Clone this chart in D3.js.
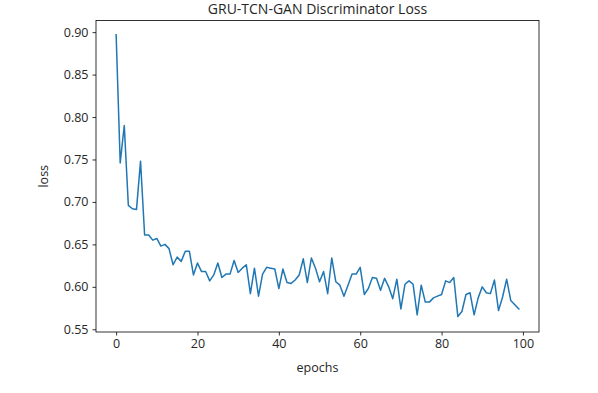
<!DOCTYPE html>
<html>
<head>
<meta charset="utf-8">
<script src="https://cdn.jsdelivr.net/npm/d3@7"></script>
<style>
  body { margin: 0; background: #fff; }
  svg text { font-family: "Open Sans", "DejaVu Sans", sans-serif; fill: #262626; }
</style>
</head>
<body>
<div id="chart"></div>
<script>
// discriminator loss per epoch
var epochs = d3.range(100);
var loss = [
    0.897, 0.746, 0.790, 0.696, 0.692, 0.691, 0.748, 0.661, 0.661, 0.655,
    0.657, 0.648, 0.650, 0.645, 0.626, 0.635, 0.630, 0.642, 0.642, 0.614,
    0.628, 0.618, 0.618, 0.607, 0.614, 0.628, 0.611, 0.615, 0.615, 0.631,
    0.617, 0.622, 0.626, 0.592, 0.622, 0.589, 0.615, 0.623, 0.622, 0.621,
    0.598, 0.621, 0.605, 0.604, 0.608, 0.614, 0.633, 0.605, 0.634, 0.622,
    0.606, 0.618, 0.592, 0.634, 0.606, 0.602, 0.589, 0.602, 0.615, 0.615,
    0.623, 0.591, 0.598, 0.611, 0.610, 0.596, 0.610, 0.600, 0.586, 0.609,
    0.574, 0.603, 0.607, 0.603, 0.567, 0.602, 0.582, 0.582, 0.587, 0.589,
    0.591, 0.607, 0.605, 0.611, 0.565, 0.571, 0.591, 0.593, 0.567, 0.587,
    0.600, 0.593, 0.592, 0.608, 0.572, 0.588, 0.609, 0.584, 0.579, 0.574
];
var xTicks = [0, 20, 40, 60, 80, 100];
var yTicks = [0.55, 0.60, 0.65, 0.70, 0.75, 0.80, 0.85, 0.90];

var width = 598, height = 393;
var plot = { left: 96, right: 539, top: 20.5, bottom: 332 };

var svg = d3.select('#chart').append('svg')
    .attr('width', width)
    .attr('height', height);

var x = d3.scaleLinear().domain([-4.95, 103.95]).range([plot.left, plot.right]);
var y = d3.scaleLinear().domain([0.5468, 0.9137]).range([plot.bottom, plot.top]);

var xAxis = d3.axisBottom(x).tickValues(xTicks).tickSize(3.5).tickSizeOuter(0).tickPadding(4);
var yAxis = d3.axisLeft(y).tickValues(yTicks).tickSize(3.5).tickSizeOuter(0).tickPadding(4)
    .tickFormat(d3.format('.2f'));

var gx = svg.append('g').attr('transform', 'translate(0,' + plot.bottom + ')').call(xAxis);
var gy = svg.append('g').attr('transform', 'translate(' + plot.left + ',0)').call(yAxis);

[gx, gy].forEach(function(g) {
    g.select('.domain').remove();
    g.selectAll('.tick line').attr('stroke', '#000').attr('stroke-width', 0.8);
    g.selectAll('.tick text').attr('font-size', 12.5).attr('fill', '#262626');
});

var line = d3.line()
    .x(function(d, i) { return x(epochs[i]); })
    .y(function(d) { return y(d); });

svg.append('path')
    .datum(loss)
    .attr('d', line)
    .attr('fill', 'none')
    .attr('stroke', '#1f77b4')
    .attr('stroke-width', 1.5)
    .attr('stroke-linejoin', 'round')
    .attr('stroke-linecap', 'square');

// axes frame
svg.append('rect')
    .attr('x', plot.left)
    .attr('y', plot.top)
    .attr('width', plot.right - plot.left)
    .attr('height', plot.bottom - plot.top)
    .attr('fill', 'none')
    .attr('stroke', '#000')
    .attr('stroke-width', 0.8);

svg.append('text')
    .attr('x', (plot.left + plot.right) / 2)
    .attr('y', 14)
    .attr('text-anchor', 'middle')
    .attr('font-size', 14)
    .text('GRU-TCN-GAN Discriminator Loss');

svg.append('text')
    .attr('x', (plot.left + plot.right) / 2)
    .attr('y', 372)
    .attr('text-anchor', 'middle')
    .attr('font-size', 12.5)
    .text('epochs');

svg.append('text')
    .attr('transform', 'translate(48,' + ((plot.top + plot.bottom) / 2) + ') rotate(-90)')
    .attr('text-anchor', 'middle')
    .attr('font-size', 12.5)
    .text('loss');
</script>
</body>
</html>
